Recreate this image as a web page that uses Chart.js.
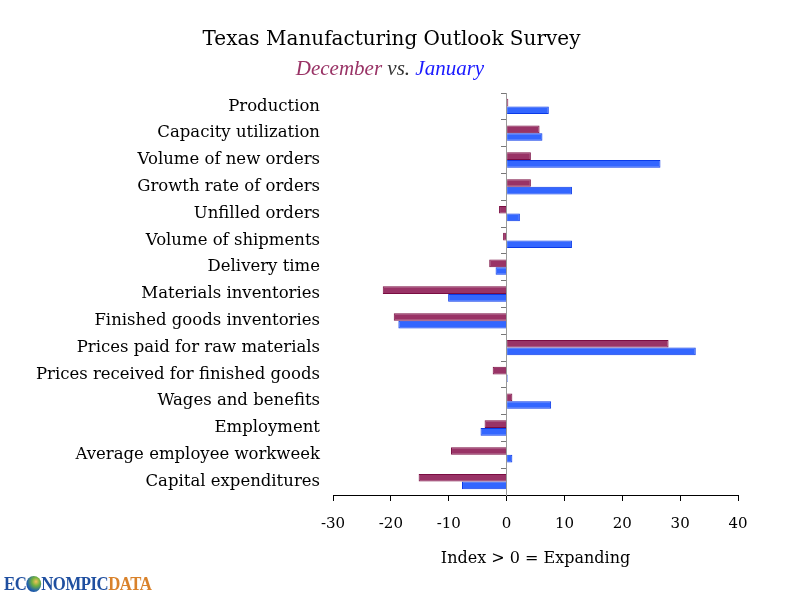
<!DOCTYPE html>
<html>
<head>
<meta charset="utf-8">
<script src="https://cdn.jsdelivr.net/npm/chart.js@4.4.0/dist/chart.umd.min.js"></script>
<style>
  body { margin: 0; background: #fff; }
  #wrap { position: relative; width: 800px; height: 600px; }
  #title { position: absolute; left: 0; width: 783px; top: 26px; text-align: center;
           font: 20px "DejaVu Serif", serif; color: #000; }
  #subtitle { position: absolute; left: 0; width: 780px; top: 56px; text-align: center;
              font: italic 21px "Liberation Serif", serif; }
  #logo { position: absolute; left: 4px; top: 574px; font: bold 18px "Liberation Serif", serif;
          letter-spacing: -0.5px; transform: scaleX(0.93); transform-origin: left; }
  .globe { display: inline-block; width: 16px; height: 16px; border-radius: 50%; vertical-align: -2px;
           background: radial-gradient(circle at 65% 35%, #f3c25a 0, #6fb03f 30%, #1f5fb0 65%, #0d2f70 100%); }
</style>
</head>
<body>
<div id="wrap">
  <canvas id="chart" width="800" height="600"></canvas>
  <div id="title">Texas Manufacturing Outlook Survey</div>
  <div id="subtitle"><span style="color:#993366">December</span> <span style="color:#333">vs.</span> <span style="color:#1a1aff">January</span></div>
  <div id="logo"><span style="color:#1f4fa0">EC<span class="globe"></span>NOMPIC</span><span style="color:#d9822b">DATA</span></div>
</div>
<script>
var categories = ['Production', 'Capacity utilization', 'Volume of new orders', 'Growth rate of orders',
  'Unfilled orders', 'Volume of shipments', 'Delivery time', 'Materials inventories',
  'Finished goods inventories', 'Prices paid for raw materials', 'Prices received for finished goods',
  'Wages and benefits', 'Employment', 'Average employee workweek', 'Capital expenditures'];
var december = [0.3, 5.7, 4.2, 4.2, -1.3, -0.6, -3.0, -21.4, -19.5, 28.0, -2.4, 1.0, -3.8, -9.6, -15.2];
var january = [7.3, 6.2, 26.6, 11.3, 2.3, 11.3, -1.9, -10.1, -18.7, 32.7, 0.2, 7.7, -4.5, 1.0, -7.7];
var xTicks = [-30, -20, -10, 0, 10, 20, 30, 40];

var serif = '"DejaVu Serif", serif';

var ctx = document.getElementById('chart').getContext('2d');
var chart = new Chart(ctx, {
  type: 'bar',
  data: {
    labels: categories,
    datasets: [{
      label: 'December',
      data: december,
      backgroundColor: '#993366',
      borderColor: '#7a0d42',
      borderWidth: 1,
      barPercentage: 1,
      categoryPercentage: 0.57
    }, {
      label: 'January',
      data: january,
      backgroundColor: '#3366ff',
      borderColor: '#0a3ae8',
      borderWidth: 1,
      barPercentage: 1,
      categoryPercentage: 0.57
    }]
  },
  options: {
    indexAxis: 'y',
    responsive: false,
    animation: false,
    layout: { padding: { top: 93, right: 62, bottom: 28, left: 0 } },
    plugins: {
      legend: { display: false },
      tooltip: { enabled: false }
    },
    scales: {
      x: {
        min: -30,
        max: 40,
        afterBuildTicks: function(scale) {
          scale.ticks = xTicks.map(function(v) { return { value: v }; });
        },
        afterFit: function(scale) { scale.height = 77; },
        grid: { drawOnChartArea: false, drawTicks: true, tickLength: 6, tickColor: '#000' },
        border: { display: true, color: '#000', width: 1 },
        ticks: { color: '#000', padding: 14, font: { family: serif, size: 15 } },
        title: {
          display: true,
          text: 'Index > 0 = Expanding',
          color: '#000',
          padding: { top: 4, bottom: 4 },
          font: { family: serif, size: 16 }
        }
      },
      y: {
        afterFit: function(scale) { scale.width = 333; },
        grid: { display: false, drawTicks: false },
        border: { display: false },
        ticks: { color: '#000', padding: 13, font: { family: serif, size: 16.5 } }
      },
      y2: {
        type: 'category',
        axis: 'y',
        labels: categories,
        offset: true,
        position: { x: 0 },
        afterFit: function(scale) { scale.width = 0; },
        grid: { drawOnChartArea: false, drawTicks: true, tickLength: 5, tickColor: '#777', offset: true },
        border: { display: true, color: '#999', width: 1 },
        ticks: { display: false }
      }
    }
  }
});
</script>
</body>
</html>
